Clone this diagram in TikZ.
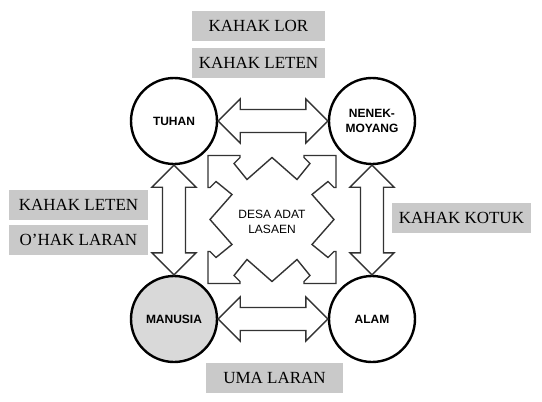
\documentclass[tikz,border=0pt]{standalone}
\usepackage{fontspec}
\setmainfont{Liberation Serif}
\setsansfont{Liberation Sans}
\usetikzlibrary{calc}

\definecolor{tagGray}{gray}{0.79}
\definecolor{manGray}{gray}{0.85}

% hollow two-way arrow from node #1 to node #2
\newcommand{\twoway}[2]{%
  \draw[flow] (#1)
    -- ($(#1)!22pt!(#2)!22pt!90:(#2)$)
    -- ($(#1)!22pt!(#2)!11.5pt!90:(#2)$)
    -- ($(#2)!22pt!(#1)!11.5pt!-90:(#1)$)
    -- ($(#2)!22pt!(#1)!22pt!-90:(#1)$)
    -- (#2)
    -- ($(#2)!22pt!(#1)!22pt!90:(#1)$)
    -- ($(#2)!22pt!(#1)!11.5pt!90:(#1)$)
    -- ($(#1)!22pt!(#2)!11.5pt!-90:(#2)$)
    -- ($(#1)!22pt!(#2)!22pt!-90:(#2)$)
    -- cycle;}

\begin{document}
\begin{tikzpicture}[x=1pt,y=-1pt,
    place/.style={circle,draw=black,line width=2.4pt,minimum size=86pt,inner sep=0pt,
      align=center,font=\sffamily\bfseries\fontsize{12}{14.5}\selectfont},
    tag/.style={fill=tagGray,minimum height=30pt,inner sep=0pt,font=\fontsize{17}{20}\selectfont},
    flow/.style={draw=black!80,line width=1.4pt,line join=miter}]

    \useasboundingbox (0,0) rectangle (542,402);

    \node[place] (tuhan) at (174,121) {TUHAN};
    \node[place] (nenek) at (372,121) {NENEK-\\MOYANG};
    \node[place, fill=manGray] (manusia) at (174,319) {MANUSIA};
    \node[place] (alam) at (372,319) {ALAM};
    \node[align=center, font=\sffamily\fontsize{12}{14.5}\selectfont] (desa) at (272,222) {DESA ADAT\\LASAEN};

    \node[tag, minimum width=133pt] (lor) at (258.5,26) {KAHAK LOR};
    \node[tag, minimum width=133pt] (leten) at (258.5,63) {KAHAK LETEN};
    \node[tag, minimum width=139pt] (letenLeft) at (78.5,204.5) {KAHAK LETEN};
    \node[tag, minimum width=139pt] (ohak) at (78.5,239.5) {O’HAK LARAN};
    \node[tag, minimum width=139pt] (kotuk) at (461.5,218) {KAHAK KOTUK};
    \node[tag, minimum width=137pt] (uma) at (274.5,378) {UMA LARAN};

    \twoway{tuhan.east}{nenek.west}
    \twoway{manusia.east}{alam.west}
    \twoway{tuhan.south}{manusia.north}
    \twoway{nenek.south}{alam.north}

    % four-way star round the village
    \begin{scope}[shift={(272,219.5)}]
        \draw[flow] (-64,-64) -- (-32,-64) -- (-32,-62) -- (-38,-56) -- (-25,-40) -- (0,-62)
            -- (25,-40) -- (38,-56) -- (32,-62) -- (32,-64)
            -- (64,-64) -- (64,-32) -- (62,-32) -- (56,-38) -- (40,-25) -- (62,0)
            -- (40,25) -- (56,38) -- (62,32) -- (64,32)
            -- (64,64) -- (32,64) -- (32,62) -- (38,56) -- (25,40) -- (0,62)
            -- (-25,40) -- (-38,56) -- (-32,62) -- (-32,64)
            -- (-64,64) -- (-64,32) -- (-62,32) -- (-56,38) -- (-40,25) -- (-62,0)
            -- (-40,-25) -- (-56,-38) -- (-62,-32) -- (-64,-32) -- cycle;
    \end{scope}

\end{tikzpicture}
\end{document}
